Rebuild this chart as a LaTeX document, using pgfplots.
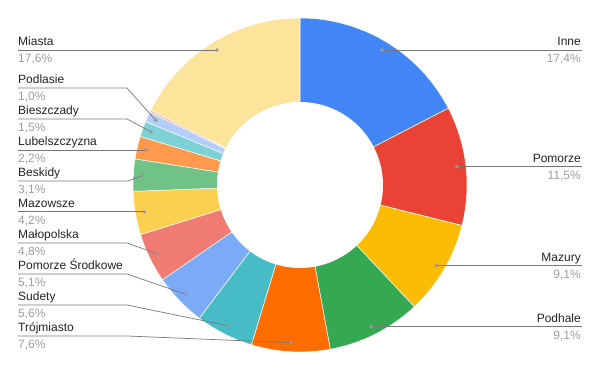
\documentclass[border=0pt]{standalone}
\usepackage{pgfplots}
\pgfplotsset{compat=1.18}
\usepackage{fontspec}
\setmainfont{Liberation Sans}
\definecolor{cInne}{HTML}{4285F4}
\definecolor{cPomorze}{HTML}{EA4335}
\definecolor{cMazury}{HTML}{FBBC04}
\definecolor{cPodhale}{HTML}{34A853}
\definecolor{cTrojmiasto}{HTML}{FF6D01}
\definecolor{cSudety}{HTML}{46BDC6}
\definecolor{cPomSr}{HTML}{7BAAF7}
\definecolor{cMalopolska}{HTML}{F07B72}
\definecolor{cMazowsze}{HTML}{FCD04F}
\definecolor{cBeskidy}{HTML}{71C287}
\definecolor{cLubel}{HTML}{FF994D}
\definecolor{cBieszczady}{HTML}{7ED1D7}
\definecolor{cPodlasie}{HTML}{B3CEFB}
\definecolor{cPink}{HTML}{F7B4AE}
\definecolor{cMiasta}{HTML}{FDE49B}
\definecolor{nameC}{HTML}{222222}
\definecolor{pctC}{HTML}{9E9E9E}
\definecolor{lineC}{HTML}{777777}
\definecolor{dotC}{HTML}{999999}
% slice: colour, start %, end % (cumulative, clockwise from top)
\newcommand{\slice}[3]{\addplot[draw=white, line width=0.5pt, fill=#1, domain=#2:#3, samples=90, variable=\t] ({300+167*sin(3.6*\t)},{186+167*cos(3.6*\t)}) -- (axis cs:300,186) -- cycle;}
% label: x, baseline y, name, percent, anchor side
\newcommand{\lab}[5]{%
\node[anchor=base #5, inner sep=0pt, font=\fontsize{12}{14}\selectfont, text=nameC] at (axis cs:#1,#2) {#3};
\node[anchor=base #5, inner sep=0pt, font=\fontsize{12}{14}\selectfont, text=pctC] at (axis cs:#1,#2-17) {#4};}
\begin{document}
\begin{tikzpicture}
\begin{axis}[width=600pt, height=371pt, scale only axis, xmin=0, xmax=600, ymin=0, ymax=371, hide axis, clip=false, name=ax]
% values (%): Inne 17.4, Pomorze 11.5, Mazury 9.1, Podhale 9.1, Trojmiasto 7.6, Sudety 5.6,
% Pomorze Srodkowe 5.1, Malopolska 4.8, Mazowsze 4.2, Beskidy 3.1, Lubelszczyzna 2.2,
% Bieszczady 1.5, Podlasie 1.0, (other) 0.2, Miasta 17.6
\slice{cInne}{0}{17.4}
\slice{cPomorze}{17.4}{28.9}
\slice{cMazury}{28.9}{38.0}
\slice{cPodhale}{38.0}{47.1}
\slice{cTrojmiasto}{47.1}{54.7}
\slice{cSudety}{54.7}{60.3}
\slice{cPomSr}{60.3}{65.4}
\slice{cMalopolska}{65.4}{70.2}
\slice{cMazowsze}{70.2}{74.4}
\slice{cBeskidy}{74.4}{77.5}
\slice{cLubel}{77.5}{79.7}
\slice{cBieszczady}{79.7}{81.2}
\slice{cPodlasie}{81.2}{82.2}
\slice{cPink}{82.2}{82.4}
\slice{cMiasta}{82.4}{100}
% hole
\addplot[fill=white, draw=none, domain=0:360, samples=120] ({300+83*cos(x)},{186+83*sin(x)});
% leader lines (axis y = 371 - pixel y)
\addplot[lineC, line width=0.7pt, no marks] coordinates {(382.1,321) (582,321)};
\addplot[lineC, line width=0.7pt, no marks] coordinates {(456.9,204.3) (582,204.3)};
\addplot[lineC, line width=0.7pt, no marks] coordinates {(436.3,105.5) (582,105.5)};
\addplot[lineC, line width=0.7pt, no marks] coordinates {(371.3,44.5) (582,44.5)};
\addplot[lineC, line width=0.7pt, no marks] coordinates {(18,321) (217.0,321)};
\addplot[lineC, line width=0.7pt, no marks] coordinates {(18,283) (127,283) (155.8,250.6)};
\addplot[lineC, line width=0.7pt, no marks] coordinates {(18,252) (127,252) (151.2,239.1)};
\addplot[lineC, line width=0.7pt, no marks] coordinates {(18,221) (146.0,221)};
\addplot[lineC, line width=0.7pt, no marks] coordinates {(18,190) (128,190) (142.3,195.4)};
\addplot[lineC, line width=0.7pt, no marks] coordinates {(18,159.3) (144.3,159.3)};
\addplot[lineC, line width=0.7pt, no marks] coordinates {(18,128) (127,128) (157.9,116.9)};
\addplot[lineC, line width=0.7pt, no marks] coordinates {(18,97) (127,97) (185.9,76.7)};
\addplot[lineC, line width=0.7pt, no marks] coordinates {(18,66) (127,66) (228.3,45.2)};
\addplot[lineC, line width=0.7pt, no marks] coordinates {(18,35) (127,35) (291.1,28.3)};
\addplot[only marks, mark=*, mark size=1.6pt, dotC, mark options={draw=dotC, fill=dotC}] coordinates {
(382.1,321) (456.9,204.3) (436.3,105.5) (371.3,44.5)
(291.1,28.3) (228.3,45.2) (185.9,76.7) (157.9,116.9) (144.3,159.3)
(142.3,195.4) (146.0,221) (151.2,239.1) (155.8,250.6) (217.0,321)};
% labels
\lab{18}{325}{Miasta}{17,6\%}{west}
\lab{18}{287}{Podlasie}{1,0\%}{west}
\lab{18}{256}{Bieszczady}{1,5\%}{west}
\lab{18}{225}{Lubelszczyzna}{2,2\%}{west}
\lab{18}{194}{Beskidy}{3,1\%}{west}
\lab{18}{163.3}{Mazowsze}{4,2\%}{west}
\lab{18}{132}{Małopolska}{4,8\%}{west}
\lab{18}{101}{Pomorze Środkowe}{5,1\%}{west}
\lab{18}{70}{Sudety}{5,6\%}{west}
\lab{18}{39}{Trójmiasto}{7,6\%}{west}
\lab{581}{325}{Inne}{17,4\%}{east}
\lab{581}{208.3}{Pomorze}{11,5\%}{east}
\lab{581}{109.5}{Mazury}{9,1\%}{east}
\lab{581}{48.5}{Podhale}{9,1\%}{east}
\end{axis}
\pgfresetboundingbox
\useasboundingbox (ax.south west) rectangle (ax.north east);
\end{tikzpicture}
\end{document}
